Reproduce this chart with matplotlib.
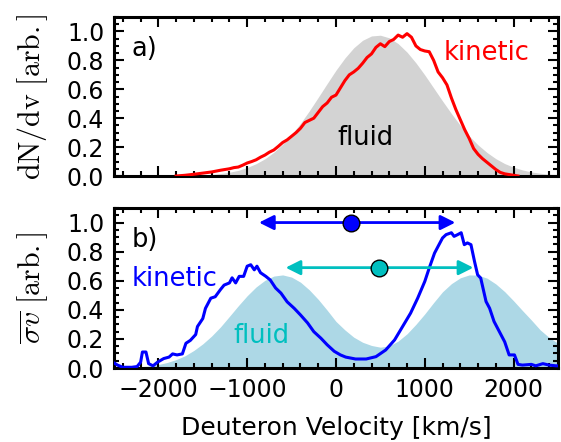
import matplotlib
matplotlib.use('Agg')
import matplotlib.pyplot as plt
from matplotlib.ticker import MultipleLocator

plt.rcParams.update({
    'font.family': 'DejaVu Sans',
    'mathtext.fontset': 'cm',
})

# ---- data ----
v_grid = list(range(-2500, 2501, 100))

fluid_a = [0.0, 0.0, 0.0, 0.0, 0.0, 0.0, 0.001, 0.001, 0.002, 0.004, 0.006,
           0.010, 0.017, 0.026, 0.039, 0.059, 0.085, 0.119, 0.164, 0.220, 0.287,
           0.364, 0.451, 0.544, 0.639, 0.732, 0.816, 0.887, 0.939, 0.969, 0.974,
           0.956, 0.916, 0.857, 0.783, 0.699, 0.609, 0.519, 0.432, 0.350, 0.277,
           0.215, 0.163, 0.120, 0.086, 0.061, 0.042, 0.028, 0.019, 0.012, 0.008]

fluid_b = [0.0, 0.003, 0.005, 0.009, 0.014, 0.024, 0.038, 0.058, 0.084, 0.121, 0.166,
           0.220, 0.283, 0.355, 0.428, 0.497, 0.557, 0.603, 0.632, 0.640, 0.625,
           0.590, 0.537, 0.472, 0.398, 0.320, 0.262, 0.212, 0.177, 0.155, 0.143,
           0.152, 0.185, 0.235, 0.300, 0.372, 0.450, 0.524, 0.580, 0.620, 0.640,
           0.638, 0.618, 0.578, 0.525, 0.462, 0.395, 0.330, 0.262, 0.210, 0.170]

kin_a_v = [-1800, -1700, -1600, -1500, -1400, -1300, -1200, -1150, -1100, -1050,
           -1000, -950, -900, -850, -800, -750, -700, -650, -600, -550,
           -500, -450, -400, -350, -300, -250, -200, -150, -100, -50,
           0, 50, 100, 150, 200, 250, 300, 350, 400, 450,
           500, 550, 600, 650, 700, 750, 800, 850, 900, 950,
           1000, 1050, 1100, 1150, 1200, 1250, 1300, 1350, 1400, 1450,
           1500, 1550, 1600, 1650, 1700, 1750, 1800, 1850, 1900, 1950, 2000, 2050]
kin_a = [0.0, 0.005, 0.012, 0.02, 0.028, 0.04, 0.05, 0.058, 0.062, 0.075,
         0.09, 0.10, 0.112, 0.13, 0.145, 0.165, 0.18, 0.205, 0.232, 0.25,
         0.275, 0.30, 0.33, 0.37, 0.385, 0.40, 0.44, 0.48, 0.505, 0.545,
         0.56, 0.61, 0.66, 0.70, 0.72, 0.745, 0.78, 0.82, 0.845, 0.89,
         0.915, 0.895, 0.93, 0.945, 0.975, 0.96, 0.985, 0.96, 0.90, 0.875,
         0.865, 0.86, 0.80, 0.72, 0.68, 0.63, 0.54, 0.46, 0.39, 0.32,
         0.26, 0.19, 0.15, 0.12, 0.095, 0.07, 0.045, 0.025, 0.015, 0.01, 0.005, 0.0]

kin_b_v = [-2500, -2460, -2400, -2300, -2240, -2200, -2180, -2140, -2110, -2060,
           -2010, -1940, -1880, -1840, -1790, -1730, -1690, -1640, -1580, -1560,
           -1500, -1470, -1410, -1360, -1300, -1260, -1200, -1170, -1130, -1090,
           -1040, -1000, -960, -920, -890, -850, -790, -740, -680, -620,
           -550, -470, -400, -320, -250, -170, -100, -20, 50, 110,
           220, 340, 450, 560, 660, 750, 840, 920, 1000, 1050,
           1110, 1160, 1200, 1240, 1300, 1330, 1370, 1410, 1445, 1480,
           1520, 1560, 1595, 1630, 1690, 1730, 1780, 1840, 1900, 1950,
           2010, 2050, 2100, 2200, 2250, 2330, 2400, 2480, 2500]
kin_b = [0.035, 0.02, 0.005, 0.005, 0.01, 0.04, 0.11, 0.11, 0.03, 0.015,
         0.04, 0.065, 0.075, 0.097, 0.09, 0.097, 0.17, 0.19, 0.23, 0.285,
         0.34, 0.41, 0.48, 0.49, 0.54, 0.57, 0.585, 0.62, 0.585, 0.63,
         0.63, 0.70, 0.71, 0.675, 0.70, 0.655, 0.63, 0.605, 0.55, 0.515,
         0.455, 0.41, 0.365, 0.31, 0.25, 0.205, 0.16, 0.115, 0.09, 0.075,
         0.062, 0.062, 0.078, 0.124, 0.193, 0.285, 0.377, 0.48, 0.595, 0.687,
         0.79, 0.848, 0.894, 0.917, 0.93, 0.905, 0.917, 0.93, 0.848, 0.86,
         0.848, 0.733, 0.641, 0.618, 0.457, 0.411, 0.32, 0.25, 0.18, 0.09,
         0.09, 0.025, 0.02, 0.025, 0.015, 0.03, 0.02, 0.015, 0.015]

# mean +/- spread markers in panel b
kin_mean, kin_lo, kin_hi, kin_y = 170, -867, 1344, 1.0
fl_mean, fl_lo, fl_hi, fl_y = 480, -567, 1547, 0.69

fig = plt.figure(figsize=(5.61, 4.42), dpi=100)
ax1 = fig.add_axes([0.2032, 0.6018, 0.7914, 0.3597])
ax2 = fig.add_axes([0.2032, 0.1674, 0.7914, 0.362])


def style(ax):
    ax.set_xlim(-2500, 2500)
    ax.set_ylim(0, 1.1)
    ax.xaxis.set_major_locator(MultipleLocator(1000))
    ax.xaxis.set_minor_locator(MultipleLocator(200))
    ax.yaxis.set_major_locator(MultipleLocator(0.2))
    ax.yaxis.set_minor_locator(MultipleLocator(0.05))
    ax.tick_params(which='both', direction='in', top=True, right=True,
                   labelsize=17, width=1.5)
    ax.tick_params(which='major', length=7.5, pad=7)
    ax.tick_params(which='minor', length=3.8)
    for s in ax.spines.values():
        s.set_linewidth(2.2)


# ---- panel a ----
ax1.fill_between(v_grid, fluid_a, color='lightgray', lw=0, zorder=1)
ax1.plot(kin_a_v, kin_a, color='r', lw=2.2, zorder=3)
style(ax1)
ax1.set_xticklabels([])
ax1.text(-2300, 0.88, 'a)', fontsize=18.5, va='center', ha='left')
ax1.text(1700, 0.85, 'kinetic', color='r', fontsize=18.5, va='center', ha='center')
ax1.text(330, 0.26, 'fluid', color='k', fontsize=18.5, va='center', ha='center')
ax1.set_ylabel(r'$\mathrm{dN/dv\ [arb.]}$', fontsize=21.5)
ax1.yaxis.set_label_coords(-0.145, 0.5)

# ---- panel b ----
ax2.fill_between(v_grid, fluid_b, color='lightblue', lw=0, zorder=1)
ax2.plot(kin_b_v, kin_b, color='b', lw=2.2, zorder=3)
style(ax2)
ax2.annotate('', xy=(kin_lo, kin_y), xytext=(kin_hi, kin_y),
             arrowprops=dict(arrowstyle='<|-|>', color='b', lw=2,
                             mutation_scale=22, shrinkA=0, shrinkB=0), zorder=4)
ax2.annotate('', xy=(fl_lo, fl_y), xytext=(fl_hi, fl_y),
             arrowprops=dict(arrowstyle='<|-|>', color='c', lw=2,
                             mutation_scale=22, shrinkA=0, shrinkB=0), zorder=4)
ax2.plot([kin_mean], [kin_y], 'o', color='b', ms=12, mec='k', mew=1, zorder=5)
ax2.plot([fl_mean], [fl_y], 'o', color='c', ms=12, mec='k', mew=1, zorder=5)
ax2.text(-2300, 0.88, 'b)', fontsize=18.5, va='center', ha='left')
ax2.text(-1820, 0.61, 'kinetic', color='b', fontsize=18.5, va='center', ha='center')
ax2.text(-840, 0.22, 'fluid', color='c', fontsize=18.5, va='center', ha='center')
ax2.set_ylabel(r'$\overline{\sigma v}\ \mathrm{[arb.]}$', fontsize=21.5)
ax2.yaxis.set_label_coords(-0.145, 0.5)
ax2.set_xlabel('Deuteron Velocity [km/s]', fontsize=18)
ax2.xaxis.set_label_coords(0.5, -0.3)

fig.savefig('out.png', dpi=100)
